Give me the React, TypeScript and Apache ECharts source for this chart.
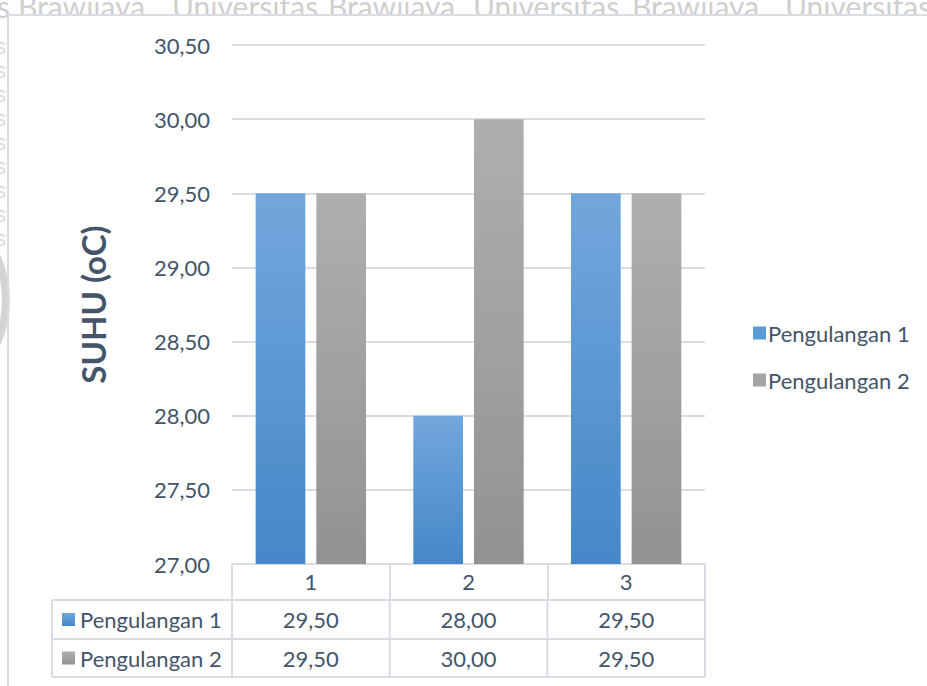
import React, { useEffect, useRef } from "react";
import * as echarts from "echarts";

const categories = ["1", "2", "3"];
const seriesNames = ["Pengulangan 1", "Pengulangan 2"];
const pengulangan1 = [29.5, 28.0, 29.5];
const pengulangan2 = [29.5, 30.0, 29.5];
const seriesValues = [pengulangan1, pengulangan2];
const yTitle = "SUHU (oC)";
const watermarkWords = ["s", "Brawijaya", "Universitas", "Brawijaya", "Universitas", "Brawijaya", "Universitas"];
const watermarkX = [-3, 18, 172, 328, 473, 632, 785];

const FONT = "Lato, 'Open Sans', sans-serif";
const TEXT = "#44546a";
const LINE = "#d9dde3";

const fmt = (v: number) => v.toFixed(2).replace(".", ",");

const blueGrad = new echarts.graphic.LinearGradient(0, 0, 0, 1, [
  { offset: 0, color: "#72a7dc" },
  { offset: 1, color: "#4587c8" },
]);
const grayGrad = new echarts.graphic.LinearGradient(0, 0, 0, 1, [
  { offset: 0, color: "#afafaf" },
  { offset: 1, color: "#929292" },
]);
const colors = [blueGrad, grayGrad];
const keyColors = ["#5b9bd5", "#a5a5a5"];

export default function App() {
  const ref = useRef<HTMLDivElement>(null);
  useEffect(() => {
    if (!ref.current) return;
    const chart = echarts.init(ref.current, null, { renderer: "svg" });
    const gridLeft = 232;
    const gridRight = 222;
    const gridTop = 45;
    const gridBottom = 122;
    chart.setOption({
      animation: false,
      textStyle: { fontFamily: FONT },
      grid: { left: gridLeft, right: gridRight, top: gridTop, bottom: gridBottom, containLabel: false },
      legend: {
        orient: "vertical",
        left: 748,
        top: 317,
        itemWidth: 13,
        itemHeight: 13,
        itemGap: 25,
        icon: "rect",
        textStyle: { fontSize: 22, color: TEXT, fontFamily: FONT, padding: [0, 0, 0, -3] },
        data: seriesNames.map((n, i) => ({ name: n, itemStyle: { color: keyColors[i] } })),
      },
      xAxis: {
        type: "category",
        data: categories,
        axisLine: { lineStyle: { color: LINE, width: 2 } },
        axisTick: { show: true, length: 36, lineStyle: { color: LINE, width: 2 } },
        axisLabel: { fontSize: 22, color: TEXT, margin: 6, fontFamily: FONT },
      },
      yAxis: {
        type: "value",
        min: 27,
        max: 30.5,
        interval: 0.5,
        name: yTitle,
        nameLocation: "middle",
        nameRotate: 90,
        nameGap: 123,
        nameTextStyle: { fontSize: 33, fontWeight: "bold", color: TEXT, fontFamily: FONT },
        axisLine: { show: false },
        axisTick: { show: false },
        axisLabel: { fontSize: 22, color: TEXT, margin: 22, formatter: (v: number) => fmt(v), fontFamily: FONT },
        splitLine: { lineStyle: { color: LINE, width: 2 } },
      },
      series: seriesNames.map((n, i) => ({
        name: n,
        type: "bar",
        data: seriesValues[i],
        barGap: "22%",
        barCategoryGap: "30%",
        itemStyle: { color: colors[i] },
        z: 3,
      })),
    });

    // data table built from the axis positions
    const centers = categories.map((c) => chart.convertToPixel({ xAxisIndex: 0 }, c) as number);
    const step = centers.length > 1 ? centers[1] - centers[0] : 150;
    const bounds = [centers[0] - step / 2, ...centers.map((c) => c + step / 2)];
    const tableLeft = 52;
    const rowYs = [600, 639, 677];
    const elements: any[] = [];
    // watermark
    watermarkWords.forEach((w, i) => {
      elements.push({
        type: "text",
        x: watermarkX[i],
        y: 21,
        z: 0,
        style: { text: w, fontSize: 30, fill: "#cfcfcf", fontFamily: FONT, verticalAlign: "bottom" },
      });
    });
    [46, 70, 94, 118, 142, 166, 190, 214, 238].forEach((y) => {
      elements.push({
        type: "text",
        x: -5,
        y,
        z: 0,
        style: { text: "s", fontSize: 22, fill: "#dadada", fontFamily: "'Liberation Sans', sans-serif", verticalAlign: "middle" },
      });
    });
    elements.push({
      type: "arc",
      shape: { cx: -100, cy: 300, r: 106, startAngle: -0.42, endAngle: 0.42 },
      style: { stroke: "#d4d4d4", lineWidth: 8, fill: null },
      z: 0,
    });
    // frame
    elements.push({ type: "rect", shape: { x: 8, y: 15, width: 930, height: 8 }, style: { fill: "#ffffff" }, z: 10 });
    elements.push({ type: "line", shape: { x1: 8, y1: 15, x2: 927, y2: 15 }, style: { stroke: LINE, lineWidth: 2 }, z: 11 });
    elements.push({ type: "line", shape: { x1: 8, y1: 15, x2: 8, y2: 686 }, style: { stroke: LINE, lineWidth: 2 }, z: 11 });
    // table lines
    rowYs.forEach((y) => {
      elements.push({ type: "line", shape: { x1: tableLeft, y1: y, x2: bounds[bounds.length - 1], y2: y }, style: { stroke: LINE, lineWidth: 2 }, z: 5 });
    });
    [tableLeft, ...bounds].forEach((x) => {
      elements.push({ type: "line", shape: { x1: x, y1: rowYs[0], x2: x, y2: rowYs[rowYs.length - 1] }, style: { stroke: LINE, lineWidth: 2 }, z: 5 });
    });
    seriesNames.forEach((n, r) => {
      const cy = (rowYs[r] + rowYs[r + 1]) / 2;
      elements.push({ type: "rect", shape: { x: 62, y: cy - 6.5, width: 13, height: 13 }, style: { fill: colors[r] }, z: 5 });
      elements.push({
        type: "text", x: 80, y: cy, z: 5,
        style: { text: n, fontSize: 22, fill: TEXT, fontFamily: FONT, verticalAlign: "middle", align: "left" },
      });
      seriesValues[r].forEach((v, c) => {
        elements.push({
          type: "text", x: centers[c], y: cy, z: 5,
          style: { text: fmt(v), fontSize: 22, fill: TEXT, fontFamily: FONT, verticalAlign: "middle", align: "center" },
        });
      });
    });
    chart.setOption({ graphic: elements });
    return () => chart.dispose();
  }, []);
  return <div ref={ref} style={{ position: "fixed", left: 0, top: 0, width: 927, height: 686, background: "#fff" }} />;
}
